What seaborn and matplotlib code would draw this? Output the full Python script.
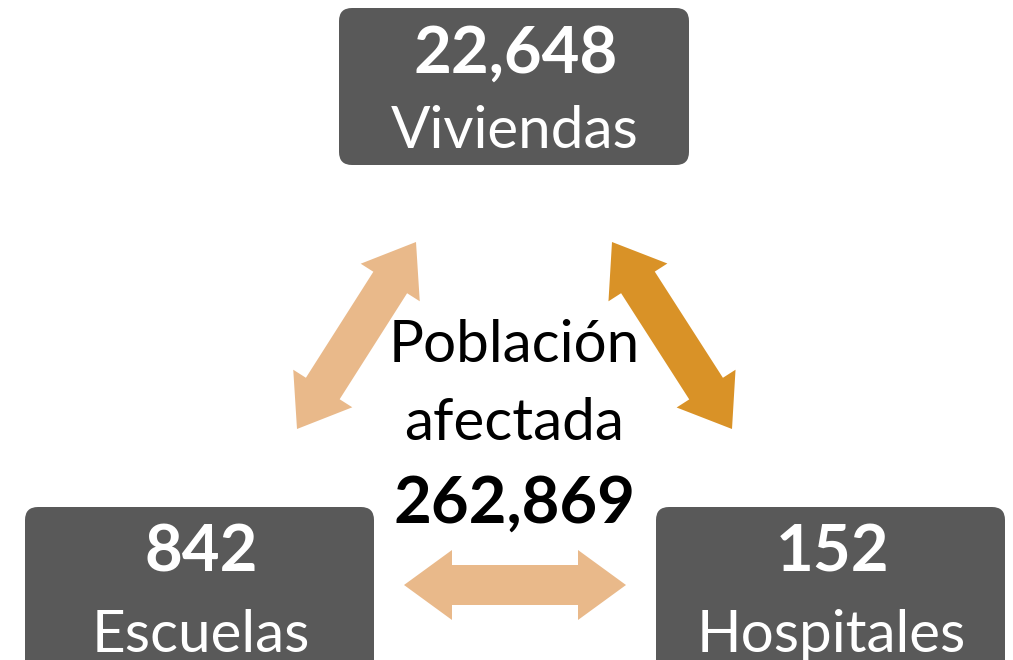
import numpy as np
import matplotlib
matplotlib.use("Agg")
import matplotlib.pyplot as plt
import seaborn as sns
from matplotlib.patches import FancyBboxPatch, Polygon

sns.set_theme(style="white")
plt.rcParams['font.family'] = ['Lato', 'DejaVu Sans']

# Data
categories = ["Viviendas", "Escuelas", "Hospitales"]
counts = [22648, 842, 152]
total_label = "Población\nafectada"
total_value = 262869

BOX_COLOR = "#595959"
ARROW_LIGHT = "#E9B98A"
ARROW_DARK = "#D99227"

# box layout in pixel coords (left, top, width, height, number baseline, label baseline)
boxes = [(339, 8, 350, 157, 73, 148),
         (25, 507, 349, 175, 572, 652),
         (656, 507, 349, 175, 572, 652)]


def double_arrow(ax, p0, p1, shaft=40, head_w=70, head_len=48, color=ARROW_LIGHT):
    p0 = np.asarray(p0, float)
    p1 = np.asarray(p1, float)
    d = p1 - p0
    u = d / np.hypot(*d)
    n = np.array([-u[1], u[0]])
    s, h = shaft / 2, head_w / 2
    a = p0 + u * head_len
    b = p1 - u * head_len
    pts = [p0, a + n * h, a + n * s, b + n * s, b + n * h, p1,
           b - n * h, b - n * s, a - n * s, a - n * h]
    ax.add_patch(Polygon(pts, closed=True, facecolor=color, edgecolor="none"))


fig = plt.figure(figsize=(10.13, 6.6), dpi=100)
ax = fig.add_axes([0, 0, 1, 1])
ax.set_xlim(0, 1013)
ax.set_ylim(660, 0)
ax.axis("off")

for (x, y, w, h, nb, lb), cat, n in zip(boxes, categories, counts):
    ax.add_patch(FancyBboxPatch((x, y), w, h,
                                boxstyle="round,pad=0,rounding_size=13",
                                facecolor=BOX_COLOR, edgecolor="none"))
    cx = x + w / 2
    ax.text(cx + 2, nb, f"{n:,}", color="white", fontsize=47, fontweight="bold",
            ha="center", va="baseline")
    ax.text(cx + 1, lb, cat, color="white", fontsize=42,
            ha="center", va="baseline")

# arrows
double_arrow(ax, (297, 429), (416, 242), color=ARROW_LIGHT)
double_arrow(ax, (612, 242), (732, 429), color=ARROW_DARK)
double_arrow(ax, (404, 585), (626, 585), color=ARROW_LIGHT)

# centre text
lines = total_label.split("\n")
ax.text(514, 362, lines[0], color="black", fontsize=42, ha="center", va="baseline")
ax.text(514, 440, lines[1], color="black", fontsize=42, ha="center", va="baseline")
ax.text(515, 523, f"{total_value:,}", color="black", fontsize=47, fontweight="bold",
        ha="center", va="baseline")

fig.savefig("out.png", dpi=100, facecolor="white")
